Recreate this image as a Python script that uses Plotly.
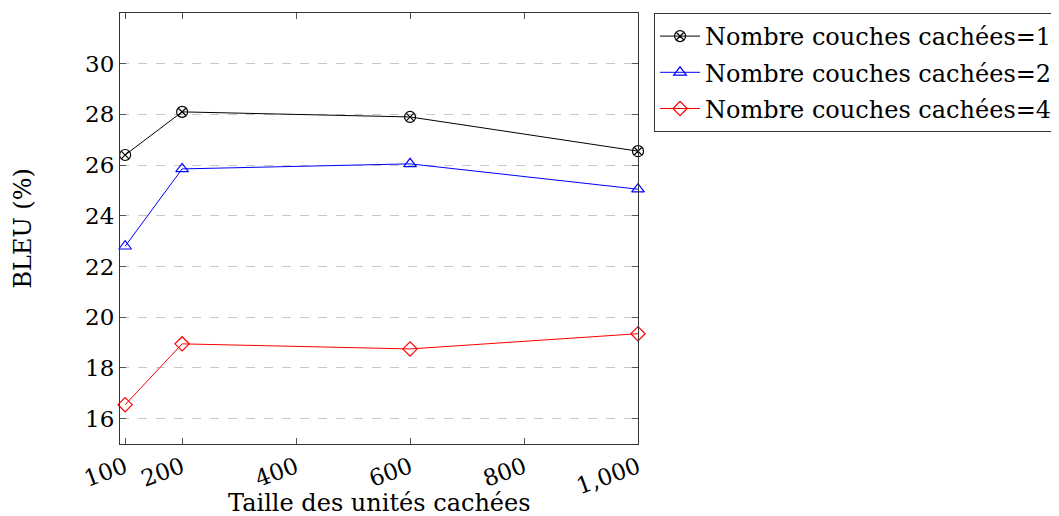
import plotly.graph_objects as go

x_vals = [100, 200, 600, 1000]
couches_1 = [26.4, 28.1, 27.9, 26.55]
couches_2 = [22.8, 25.85, 26.05, 25.05]
couches_4 = [16.55, 18.95, 18.75, 19.35]

series_names = ["Nombre couches cachées=1", "Nombre couches cachées=2", "Nombre couches cachées=4"]
x_tickvals = [100, 200, 400, 600, 800, 1000]
x_ticktext = ["100", "200", "400", "600", "800", "1,000"]
y_tickvals = [16, 18, 20, 22, 24, 26, 28, 30]
x_title = "Taille des unités cachées"
y_title = "BLEU (%)"

FONT = "DejaVu Serif"
FS = 23

fig = go.Figure()
styles = [
    ("black", "circle-x-open"),
    ("blue", "triangle-up-open"),
    ("red", "diamond-open"),
]
for i, (name, ys, (col, sym)) in enumerate(zip(series_names, [couches_1, couches_2, couches_4], styles)):
    fig.add_trace(go.Scatter(
        x=x_vals, y=ys, name=name, mode="lines+markers", legendgroup=f"g{i}",
        line=dict(color=col, width=1),
        marker=dict(symbol=sym, size=11, color=col, line=dict(color=col, width=1.2)),
        cliponaxis=False,
    ))

fig.update_layout(
    width=1059, height=516,
    margin=dict(l=112, r=429, t=5, b=80),
    plot_bgcolor="white", paper_bgcolor="white",
    font=dict(family=FONT, size=FS, color="black"),
    showlegend=True,
    legend=dict(
        x=1.031, y=1.0, xanchor="left", yanchor="top",
        bgcolor="white", bordercolor="#333333", borderwidth=1,
        font=dict(family=FONT, size=24, color="black"),
        tracegroupgap=2, itemwidth=40,
    ),
    annotations=[
        dict(text=x_title, xref="paper", yref="paper", x=0.5, y=-0.137,
             xanchor="center", yanchor="middle", showarrow=False,
             font=dict(family=FONT, size=24, color="black")),
        dict(text=y_title, xref="paper", yref="paper", x=-0.189, y=0.5,
             xanchor="center", yanchor="middle", showarrow=False, textangle=-90,
             font=dict(family=FONT, size=24, color="black")),
    ],
)
fig.update_xaxes(
    range=[91, 1000], tickvals=x_tickvals, ticktext=x_ticktext,
    tickangle=-20, ticks="inside", ticklen=6, tickcolor="#555555",
    showgrid=False, zeroline=False, automargin=False,
    showline=True, linecolor="#333333", linewidth=1.2, mirror="ticks",
    tickfont=dict(family=FONT, size=FS),
)
fig.update_yaxes(
    range=[15, 32], tickvals=y_tickvals,
    ticks="inside", ticklen=6, tickcolor="#555555",
    showgrid=True, gridcolor="#c8c8c8", griddash="dash", gridwidth=1,
    zeroline=False, automargin=False,
    showline=True, linecolor="#333333", linewidth=1.2, mirror="ticks",
    tickfont=dict(family=FONT, size=FS),
)

fig.write_html("out.html")
